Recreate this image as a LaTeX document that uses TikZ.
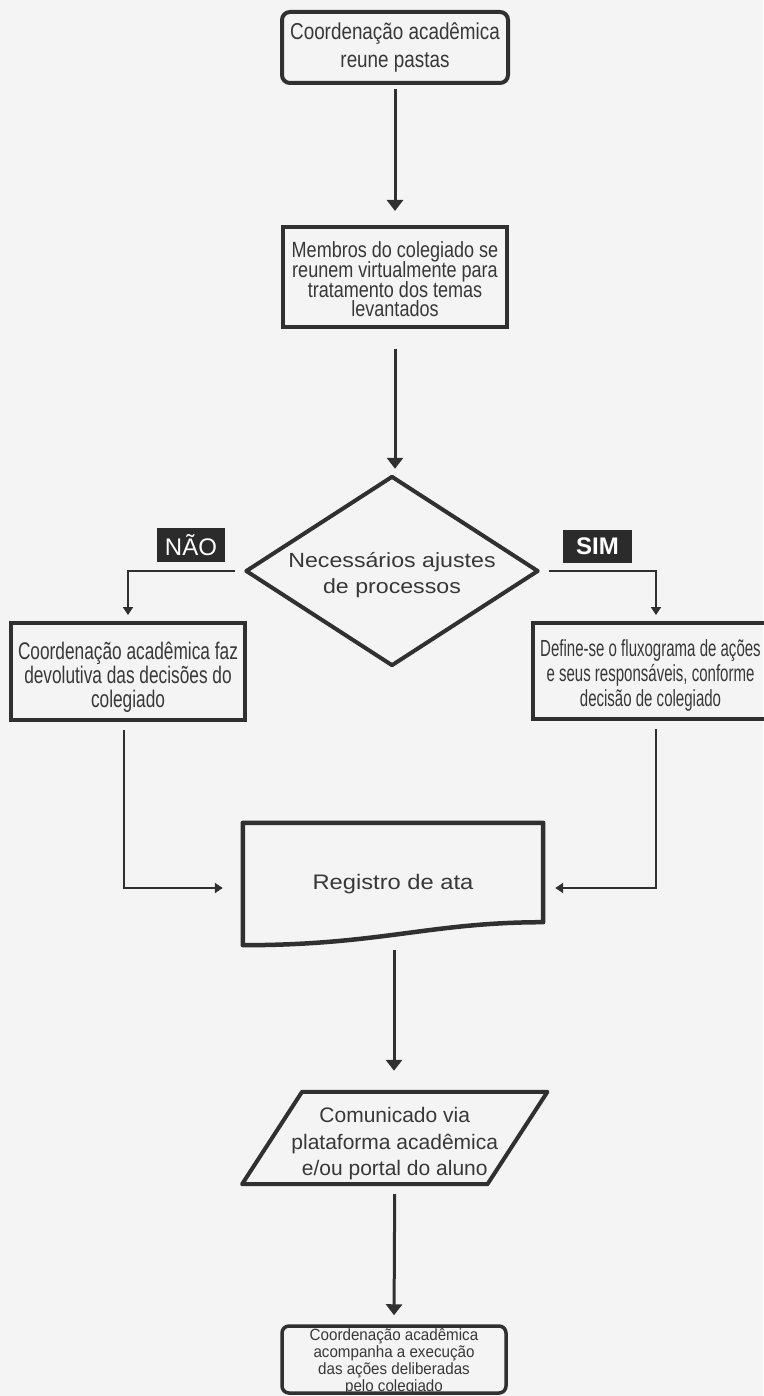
\documentclass[tikz,border=0pt]{standalone}
\usepackage{fontspec}
\setmainfont{Liberation Sans}
\newfontfamily\fA{Liberation Sans}[FakeStretch=0.82]
\newfontfamily\fL{Liberation Sans}[FakeStretch=0.72]
\newfontfamily\fR{Liberation Sans}[FakeStretch=0.645]
\newfontfamily\fW{Liberation Sans}[FakeStretch=1.13]
\newfontfamily\fS{Liberation Sans}[FakeStretch=0.93]
\usetikzlibrary{arrows.meta,calc}
\definecolor{bg}{HTML}{F4F4F4}
\definecolor{ln}{HTML}{303030}
\definecolor{tx}{HTML}{383838}
\definecolor{labbg}{HTML}{2B2B2B}
\newcommand{\lowered}[2]{\smash{\raisebox{#1}{\begin{tabular}{@{}c@{}}#2\end{tabular}}}}
\newcommand{\topstrut}[1]{\rule{0pt}{#1}}
\begin{document}
\begin{tikzpicture}[x=1pt,y=-1pt,
  boxst/.style={draw=ln, line width=4pt, text=tx, align=center, inner sep=0pt},
  plainst/.style={text=tx, align=center, inner sep=0pt},
  shapest/.style={draw=ln, line width=4pt, line join=round},
  labst/.style={fill=labbg, text=white, inner sep=0pt, minimum width=68pt, minimum height=34pt, font=\fontsize{24}{28}\selectfont},
  arr/.style={draw=ln, line width=3pt, -{Triangle[length=11pt,width=16pt]}},
  sarr/.style={draw=ln, line width=2.7pt, -{Triangle[length=8pt,width=10pt]}}]
\fill[bg] (0,0) rectangle (763,1396);
\useasboundingbox (0,0) rectangle (763,1396);

% top box
\node[boxst, rounded corners=8pt, minimum width=226pt, minimum height=71pt,
  font={\fA\fontsize{23}{28}\selectfont}] (n1) at (395,47.5)
  {Coordenação acadêmica\\reune pastas};

% second box
\node[boxst, minimum width=224pt, minimum height=100pt,
  font={\fA\fontsize{22}{19.6}\selectfont\lineskiplimit=-30pt}] (n2) at (395,277)
  {\topstrut{21pt}Membros do colegiado se\\reunem virtualmente para\\tratamento dos temas\\levantados};

% decision
\node[plainst, minimum width=291pt, minimum height=188pt,
  font={\fW\fontsize{20.5}{26}\selectfont}] (dec) at (392,571)
  {\lowered{-9pt}{Necessários ajustes\\de processos}};
\draw[shapest] (dec.north) -- (dec.east) -- (dec.south) -- (dec.west) -- cycle;

% labels
\node[labst] (nao) at (191,545) {NÃO};
\node[labst, minimum width=69pt, minimum height=33pt, font=\fontsize{24}{28}\selectfont\bfseries] (sim) at (597.5,546.5) {SIM};

% side boxes
\node[boxst, minimum width=234pt, minimum height=97pt,
  font={\fL\fontsize{24}{24.4}\selectfont\lineskiplimit=-30pt}] (L) at (128,671.5)
  {\topstrut{29pt}Coordenação acadêmica faz\\devolutiva das decisões do\\colegiado};
\node[boxst, minimum width=235pt, minimum height=96pt,
  font={\fR\fontsize{23.3}{25}\selectfont\lineskiplimit=-30pt}] (R) at (650.5,671)
  {\topstrut{25pt}Define-se o fluxograma de ações\\e seus responsáveis, conforme\\decisão de colegiado};

% document shape
\node[plainst, minimum width=300pt, minimum height=122pt,
  font={\fW\fontsize{21}{26}\selectfont}] (reg) at (393,884) {Registro de ata};
\draw[draw=ln, line width=4.5pt, line join=round]
  (reg.north west) -- (reg.north east) -- ($(reg.south east)+(0,-23)$)
  .. controls +(-113,0) and +(137,0) .. (reg.south west) -- cycle;

% parallelogram
\node[plainst, minimum width=245pt, minimum height=92pt,
  font={\fontsize{21}{26.5}\selectfont}] (com) at (394.75,1138)
  {\lowered{-11pt}{Comunicado via\\plataforma acadêmica\\e/ou portal do aluno}};
\draw[shapest] ($(com.north west)+(30,0)$) -- ($(com.north east)+(30,0)$)
  -- ($(com.south east)+(-30,0)$) -- ($(com.south west)+(-30,0)$) -- cycle;

% bottom box
\node[boxst, line width=3.5pt, rounded corners=7pt, minimum width=224pt, minimum height=67pt,
  font={\fS\fontsize{16.3}{16.8}\selectfont}] (B) at (394,1359.5)
  {\lowered{-7.5pt}{Coordenação acadêmica\\acompanha a execução\\das ações deliberadas\\pelo colegiado}};

% connectors
\draw[arr, shorten <=4pt, shorten >=14pt] (n1.south) -- (n2.north);
\draw[arr, shorten <=20pt, shorten >=8pt] (n2.south) -- (dec.north -| n2.south);
\draw[sarr, shorten <=11pt, shorten >=6pt] (dec.west) -| (L.north);
\draw[sarr, shorten <=11pt, shorten >=6pt] (dec.east) -| ([xshift=5.5pt]R.north);
\draw[sarr, shorten <=8pt, shorten >=20pt] ([xshift=-4pt]L.south) |- ([yshift=-4pt]reg.west);
\draw[sarr, shorten <=8pt, shorten >=12pt] ([xshift=5.5pt]R.south) |- ([yshift=-4pt]reg.east);
\draw[arr, shorten <=5pt, shorten >=21pt] ([xshift=1pt]reg.south) -- ([xshift=1pt]reg.south |- com.north);
\draw[arr, shorten <=10pt, shorten >=9pt] (com.south) -- (B.north);
\end{tikzpicture}
\end{document}
